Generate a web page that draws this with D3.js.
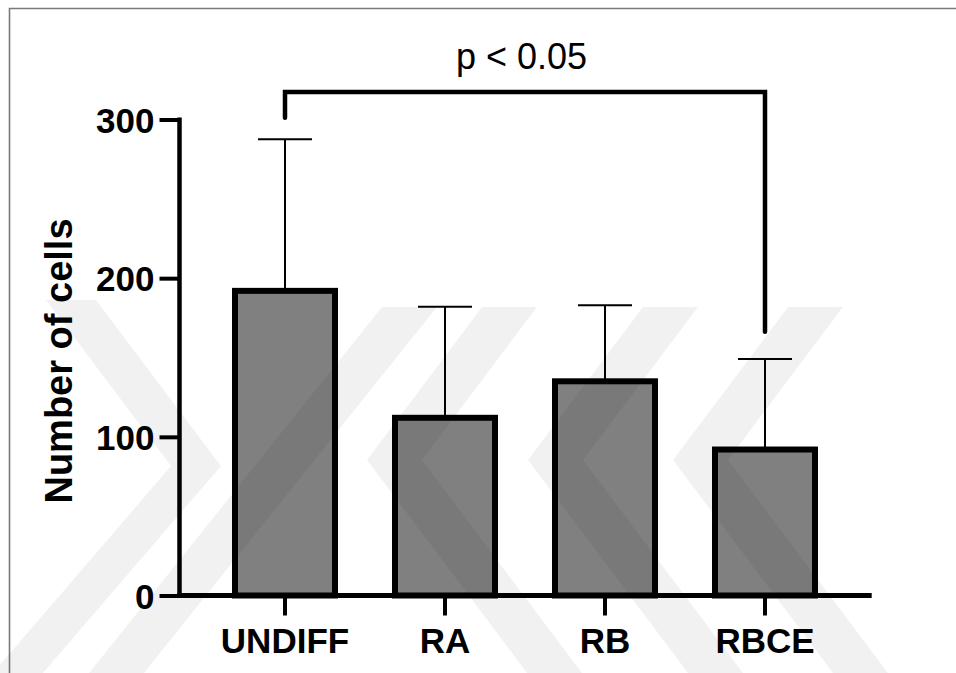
<!DOCTYPE html>
<html>
<head>
<meta charset="utf-8">
<script src="https://cdn.jsdelivr.net/npm/d3@7"></script>
<style>
  html, body { margin: 0; padding: 0; background: #fff; }
  svg { display: block; font-family: "Liberation Sans", Arial, Helvetica, sans-serif; }
</style>
</head>
<body>
<svg id="chart" width="956" height="673"></svg>
<script>
// Group labels, mean cell counts and standard deviations
const categories = ["UNDIFF", "RA", "RB", "RBCE"];
const means = [192, 112, 135, 92];
const sds = [95.5, 70, 48, 57];
const yTicks = [0, 100, 200, 300];
const yLabel = "Number of cells";
const comparison = { from: "UNDIFF", to: "RBCE", text: "p < 0.05" };

const svg = d3.select("#chart");
const W = 956, H = 673;

// frame line along the top and left edges
svg.append("path")
  .attr("d", `M9.5,${H}V8.5H${W}`)
  .attr("fill", "none")
  .attr("stroke", "#7a7a7a")
  .attr("stroke-width", 1.6);

const y = d3.scaleLinear().domain([0, 300]).range([595.5, 119.5]);
const x = d3.scaleBand()
  .domain(categories)
  .range([205, 845])
  .paddingInner(0.375)
  .paddingOuter(0.1875);

const axisLeft = 179.5, axisRight = 871.7;

const data = categories.map((c, i) => ({ c, m: means[i], sd: sds[i] }));

// error bars (upper only), drawn behind the bars
const eb = svg.append("g").attr("stroke", "#000").attr("stroke-width", 2);
data.forEach(d => {
  const cx = x(d.c) + x.bandwidth() / 2;
  eb.append("line")
    .attr("x1", cx).attr("x2", cx)
    .attr("y1", y(d.m)).attr("y2", y(d.m + d.sd));
  eb.append("line")
    .attr("x1", cx - 27).attr("x2", cx + 27)
    .attr("y1", y(d.m + d.sd)).attr("y2", y(d.m + d.sd));
});

// bars
svg.append("g").selectAll("rect")
  .data(data)
  .join("rect")
  .attr("x", d => x(d.c))
  .attr("width", x.bandwidth())
  .attr("y", d => y(d.m))
  .attr("height", d => y(0) - y(d.m))
  .attr("fill", "#808080")
  .attr("stroke", "#000")
  .attr("stroke-width", 6);

// y axis
const yAxis = d3.axisLeft(y).tickValues(yTicks).tickSize(20).tickPadding(5).tickSizeOuter(0);
const gy = svg.append("g").attr("transform", `translate(${axisLeft},0)`).call(yAxis);
gy.select(".domain").remove();
gy.selectAll(".tick line").attr("stroke", "#000").attr("stroke-width", 4);
gy.selectAll(".tick text")
  .attr("fill", "#000")
  .attr("font-size", 35)
  .attr("font-weight", "bold")
  .attr("font-family", "'Liberation Sans', Arial, sans-serif")
  .attr("dy", "0.36em");
svg.append("line")
  .attr("x1", axisLeft).attr("x2", axisLeft)
  .attr("y1", y(0) + 2.5).attr("y2", y(300) - 2)
  .attr("stroke", "#000").attr("stroke-width", 4.5);

// x axis
const gx = svg.append("g").attr("transform", `translate(0,${y(0)})`)
  .call(d3.axisBottom(x).tickSize(20).tickPadding(13).tickSizeOuter(0));
gx.select(".domain").remove();
gx.selectAll(".tick line").attr("stroke", "#000").attr("stroke-width", 4);
gx.selectAll(".tick text")
  .attr("fill", "#000")
  .attr("font-size", 35)
  .attr("font-weight", "bold")
  .attr("font-family", "'Liberation Sans', Arial, sans-serif")
  .attr("dy", "0.71em");
svg.append("line")
  .attr("x1", axisLeft - 2.25).attr("x2", axisRight)
  .attr("y1", y(0)).attr("y2", y(0))
  .attr("stroke", "#000").attr("stroke-width", 5);

// y axis title
svg.append("text")
  .attr("transform", `translate(72,${361}) rotate(-90)`)
  .attr("text-anchor", "middle")
  .attr("font-size", 38)
  .attr("font-weight", "bold")
  .attr("fill", "#000")
  .text(yLabel);

// significance bracket
const bx1 = x(comparison.from) + x.bandwidth() / 2;
const bx2 = x(comparison.to) + x.bandwidth() / 2;
svg.append("path")
  .attr("d", `M${bx1},117.7V92H${bx2}V331.7`)
  .attr("fill", "none")
  .attr("stroke", "#000")
  .attr("stroke-width", 4.5)
  .attr("stroke-linecap", "round");
svg.append("text")
  .attr("x", 521.5)
  .attr("y", 68.5)
  .attr("text-anchor", "middle")
  .attr("font-size", 36)
  .attr("fill", "#000")
  .text(comparison.text);

// faint background emblem: diagonal chevron bands over the lower half
const emblem = [
  [[46,300],[96,300],[221,466],[43,673],[-7,673],[171,466]],
  [[382,307],[437,307],[144,673],[89,673]],
  [[482,307],[537,307],[422,460],[582,673],[527,673],[367,460]],
  [[643,307],[698,307],[583,460],[743,673],[688,673],[528,460]],
  [[788,307],[843,307],[728,460],[888,673],[833,673],[673,460]]
];
svg.append("g")
  .attr("pointer-events", "none")
  .selectAll("path")
  .data(emblem)
  .join("path")
  .attr("d", d => d3.line()(d) + "Z")
  .attr("fill", "#000")
  .attr("fill-opacity", 0.055);
</script>
</body>
</html>
